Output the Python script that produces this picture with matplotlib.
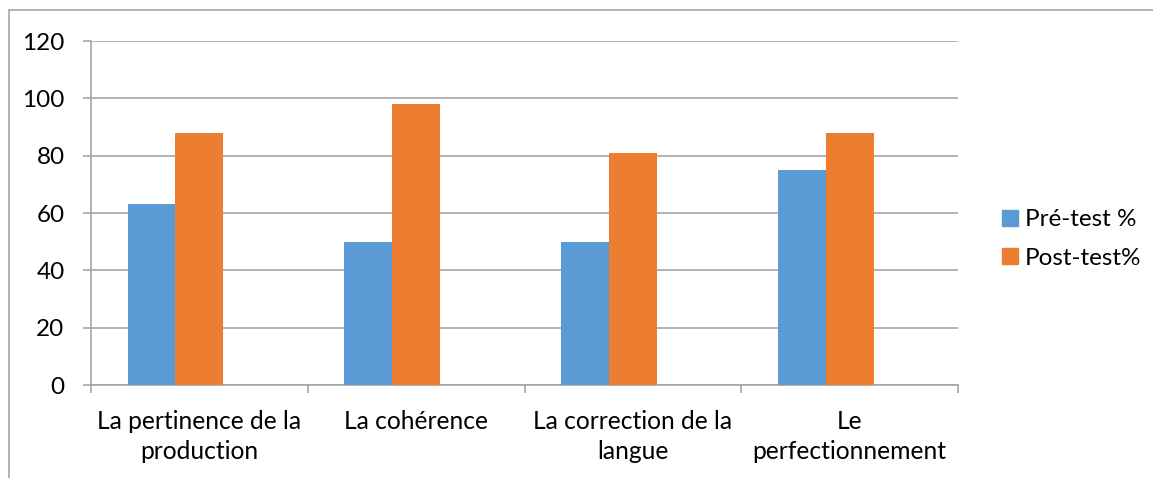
import matplotlib.pyplot as plt
from matplotlib.patches import Rectangle
from matplotlib.lines import Line2D
import numpy as np

categories = ["La pertinence de la\nproduction", "La cohérence",
              "La correction de la\nlangue", "Le\nperfectionnement"]
pre_test = [63, 50, 50, 75]
post_test = [88, 98, 81, 88]
series_names = ["Pré-test %", "Post-test%"]

blue = "#5B9BD5"
orange = "#ED7D31"
grid = "#A6A6A6"

plt.rcParams['font.family'] = ['Lato', 'DejaVu Sans']

fig = plt.figure(figsize=(11.53, 4.78), dpi=100)
ax = fig.add_axes([91 / 1153, 1 - 385 / 478, (958 - 91) / 1153, (385 - 41) / 478])

x = np.arange(len(categories))
w = 0.221
ax.bar(x - w, pre_test, width=w, color=blue, align="center", zorder=3)
ax.bar(x, post_test, width=w, color=orange, align="center", zorder=3)

ax.set_xlim(-0.5, len(categories) - 0.5)
ax.set_ylim(0, 120)
ax.set_yticks(range(0, 121, 20))
ax.yaxis.grid(True, color=grid, linewidth=1.2, zorder=0)

ax.set_xticks(x)
ax.set_xticklabels(categories, fontsize=17.7, linespacing=1.35)
ax.set_xticks(np.arange(len(categories) + 1) - 0.5, minor=True)
ax.tick_params(axis="x", which="major", length=0, pad=18)
ax.tick_params(axis="x", which="minor", length=6, color=grid, width=1.2)
ax.tick_params(axis="y", length=6, color=grid, width=1.2, pad=13, labelsize=17.5)

for side in ["top", "right"]:
    ax.spines[side].set_visible(False)
for side in ["left", "bottom"]:
    ax.spines[side].set_color(grid)
    ax.spines[side].set_linewidth(1.2)

handles = [Line2D([], [], marker="s", linestyle="", markersize=11, color=c)
           for c in (blue, orange)]
fig.legend(handles, series_names, loc="center left",
           bbox_to_anchor=(1000 / 1153, 1 - 239 / 478), frameon=False,
           borderpad=0, borderaxespad=0,
           fontsize=17.5, handletextpad=0.23, labelspacing=0.73, handlelength=0.8)

# chart border, partly outside the image
fig.patches.append(Rectangle((9 / 1153, -0.1), 1.2, 1 - 10 / 478 + 0.1,
                             transform=fig.transFigure, fill=False,
                             edgecolor="#A6A6A6", linewidth=1.2))

fig.savefig("out.png", dpi=100)
